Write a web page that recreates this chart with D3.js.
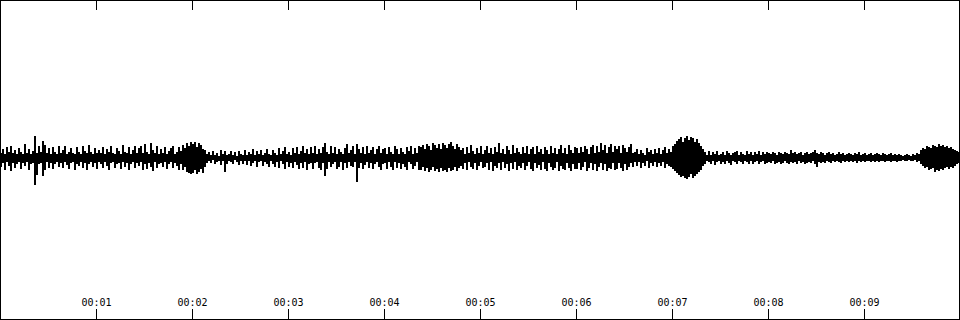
<!DOCTYPE html>
<html>
<head>
<meta charset="utf-8">
<script src="https://cdn.jsdelivr.net/npm/d3@7"></script>
<style>
  html, body { margin: 0; padding: 0; background: #fff; }
  svg { display: block; }
  .tick text { font-family: "DejaVu Sans Mono", monospace; font-size: 10px; fill: #000; }
</style>
</head>
<body>
<svg id="chart" width="960" height="320"></svg>
<script>
// clip length in seconds, tick marks (seconds)
const duration = 10;
const tickSeconds = [1, 2, 3, 4, 5, 6, 7, 8, 9];

// waveform peaks, one value per 1/48 s: level above / below zero (full scale = 160)
const peakUp = [
  5,9,4,11,6,12,5,8,4,10,  6,4,14,5,9,4,7,22,5,12,  6,17,13,5,10,4,11,6,4,12,
  5,8,12,4,6,10,5,4,11,6,  4,12,7,5,13,6,4,10,5,8,  5,11,4,9,6,12,5,4,10,7,
  4,13,6,5,11,4,8,12,5,10,  12,5,14,6,4,15,8,5,12,4,  9,5,11,4,7,10,12,4,6,11,
  7,13,10,15,12,16,

  14,16,11,15,13,9,8,4,6,3,  7,3,5,2,8,4,7,3,4,7,  3,6,2,7,4,3,8,3,6,4,
  9,3,7,4,8,3,5,9,4,3,  8,5,3,10,4,7,11,4,6,3,  10,5,11,4,7,12,5,9,4,11,
  5,12,4,9,5,11,15,6,4,12,  5,11,4,9,6,4,10,14,5,8,  12,4,14,9,5,11,4,12,5,8,
  11,4,9,12,5,9,

  10,4,11,6,4,12,9,4,10,6,  4,11,7,12,4,10,5,12,11,13,  9,14,12,8,15,13,10,14,9,15,
  13,10,14,16,12,9,14,11,8,10,  4,11,5,13,7,4,10,5,12,4,  8,12,5,10,4,11,6,15,5,9,
  4,12,8,4,13,5,10,6,4,11,  5,12,4,9,11,4,12,6,9,4,  11,8,4,12,5,10,4,9,13,5,
  10,4,13,8,5,11,

  10,5,11,6,12,9,4,11,13,5,  12,6,15,8,13,5,11,14,6,12,  9,12,5,13,10,6,11,14,5,6,
  9,4,8,5,3,10,6,8,4,9,  5,10,4,8,11,5,9,6,12,14,  17,19,21,16,20,22,18,21,20,16,
  19,15,12,9,6,3,7,3,6,4,  7,3,4,6,3,7,5,3,5,6,  7,3,6,4,3,7,4,6,3,6,
  4,7,3,6,4,6,

  5,4,6,5,3,6,5,4,6,5,  4,8,5,6,4,5,6,3,5,6,  4,5,6,8,5,4,6,5,3,5,
  6,4,5,3,4,6,4,5,3,4,  5,4,3,5,4,6,3,4,5,3,  4,5,3,4,5,4,3,5,4,3,
  4,5,3,4,3,4,3,2,3,4,  3,2,4,3,5,4,8,10,9,12,  11,10,13,12,11,14,12,13,11,12,
  10,11,9,8,7,6
];
const peakDown = [
  9,5,12,4,8,13,5,10,6,4,  11,5,8,4,12,6,5,27,17,6,  5,18,12,4,10,5,11,6,4,9,
  5,10,4,7,11,5,4,12,6,8,  4,10,5,12,6,4,9,5,11,4,  6,10,4,8,12,5,4,10,6,5,
  11,4,9,5,12,6,4,10,5,8,  4,12,6,11,5,9,13,4,10,6,  5,9,4,11,6,4,10,5,8,12,
  6,12,9,14,15,16,

  15,12,16,14,11,15,9,5,3,5,  2,6,4,3,7,3,14,6,3,4,  6,2,4,7,3,6,3,7,3,8,
  5,3,9,4,3,8,4,6,9,3,  6,9,4,10,3,6,11,4,9,5,  10,4,7,11,5,10,4,12,6,5,
  11,5,4,10,12,5,18,11,4,9,  6,4,11,9,4,12,5,10,4,8,  9,4,24,10,5,11,7,4,10,5,
  11,6,4,9,12,6,

  5,11,4,9,12,4,10,5,11,6,  9,12,4,6,11,8,4,12,12,9,  13,10,14,12,9,13,11,14,10,13,
  12,14,10,13,12,9,13,10,8,11,  5,12,4,9,11,5,12,8,4,10,  9,5,12,4,13,8,10,5,12,4,
  10,6,13,5,11,4,12,8,10,5,  12,8,4,11,13,5,10,7,12,4,  11,13,5,9,12,10,4,13,8,11,
  12,5,10,13,6,11,

  11,5,12,9,4,13,10,5,12,6,  13,9,5,12,6,13,10,11,5,12,  11,5,10,13,6,12,9,5,9,4,
  8,4,10,5,8,3,10,5,8,4,  9,5,8,4,10,6,8,9,11,13,  15,17,19,18,20,21,19,16,20,18,
  16,14,12,8,6,3,4,6,3,7,  4,3,6,4,6,3,5,7,3,4,  6,3,4,6,3,4,6,3,6,4,
  3,6,4,3,6,5,

  4,5,3,6,5,4,6,5,3,5,  6,4,5,4,6,3,5,4,6,5,  4,5,3,6,9,4,5,4,5,3,
  4,5,3,4,3,4,5,3,4,3,  4,3,4,3,5,3,4,3,4,3,  3,4,3,4,3,4,3,3,4,3,
  3,4,3,3,4,3,3,2,3,3,  2,3,3,2,4,3,6,8,10,9,  12,11,10,14,12,13,11,12,10,9,
  11,9,10,8,6,5
];

const width = 960, height = 320;
const svg = d3.select('#chart');

const x = d3.scaleLinear().domain([0, duration]).range([0, width]);
const y = d3.scaleLinear().domain([-160, 160]).range([height - 2, -2]);

const binSec = duration / peakUp.length;
const bins = peakUp.map((u, i) => ({ t: (i + 0.5) * binSec, up: u, down: peakDown[i] || 0 }));

// waveform
svg.append('path')
  .datum(bins)
  .attr('fill', '#000')
  .attr('shape-rendering', 'crispEdges')
  .attr('d', d3.area()
    .curve(d3.curveStep)
    .x(d => x(d.t))
    .y0(d => y(-d.down))
    .y1(d => y(d.up)));

// frame
svg.append('rect')
  .attr('x', 0.5).attr('y', 0.5)
  .attr('width', width - 1).attr('height', height - 1)
  .attr('fill', 'none').attr('stroke', '#000');

// top ticks, no labels
const topAxis = svg.append('g')
  .call(d3.axisBottom(x).tickValues(tickSeconds).tickSize(10).tickFormat(''));
topAxis.select('.domain').remove();

// bottom ticks with time labels
const fmt = d3.format('02');
const bottomAxis = svg.append('g')
  .attr('transform', `translate(0,${height - 1})`)
  .call(d3.axisTop(x).tickValues(tickSeconds).tickSize(10).tickPadding(3)
    .tickFormat(d => '00:' + fmt(d)));
bottomAxis.select('.domain').remove();
bottomAxis.selectAll('line').attr('stroke', '#000');
topAxis.selectAll('line').attr('stroke', '#000');
</script>
</body>
</html>
